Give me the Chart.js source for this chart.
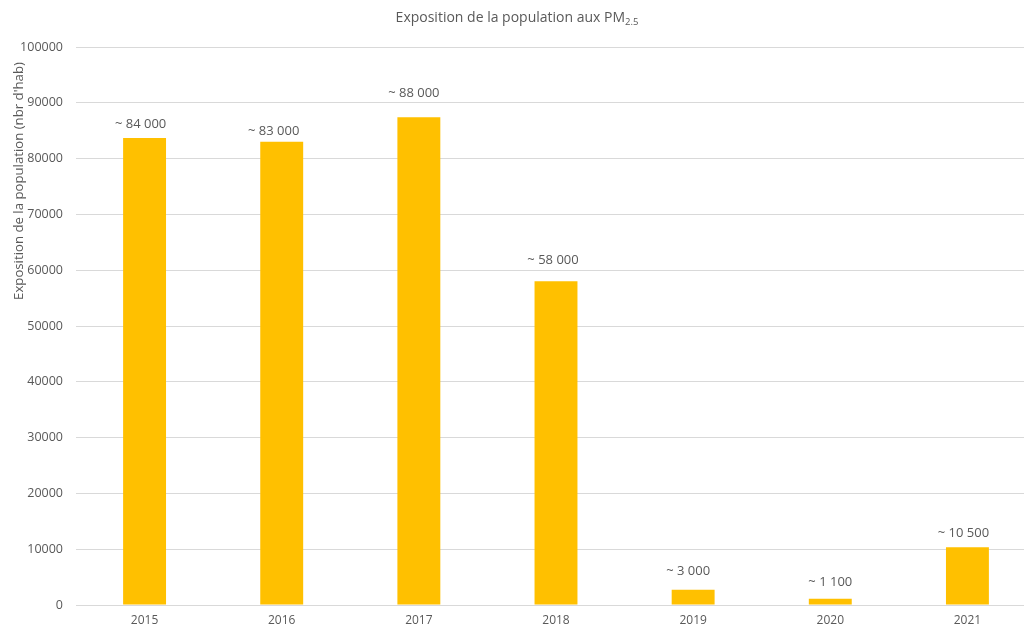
<!DOCTYPE html>
<html>
<head>
<meta charset="utf-8">
<script src="https://cdn.jsdelivr.net/npm/chart.js@4"></script>
<style>
    html, body { margin: 0; padding: 0; background: #fff; overflow: hidden; }
    #wrap { position: relative; width: 1036px; height: 630px; }
</style>
</head>
<body>
<div id="wrap"><canvas id="pmChart"></canvas></div>
<script>
// Data
const years = ['2015', '2016', '2017', '2018', '2019', '2020', '2021'];
const population = [83700, 83000, 87400, 58000, 2750, 1130, 10350];
const valueLabels = ['~ 84 000', '~ 83 000', '~ 88 000', '~ 58 000', '~ 3 000', '~ 1 100', '~ 10 500'];
const yTicks = [0, 10000, 20000, 30000, 40000, 50000, 60000, 70000, 80000, 90000, 100000];

// labels were nudged by hand in the original, keep the same offsets from the bar top
const labelDx = [-4, -8, -5, -3, -5, 0, -4];
const labelDy = [-14, -11, -24, -21, -18, -16, -14];

const textColor = '#595959';
const fontFamily = "'Open Sans', 'Noto Sans', sans-serif";

// Title with subscript, y axis title, labels above bars
const decorPlugin = {
    id: 'decor',
    afterDatasetsDraw(chart) {
        const ctx = chart.ctx;
        ctx.save();
        ctx.fillStyle = textColor;

        // title
        const main = 'Exposition de la population aux PM';
        const sub = '2.5';
        ctx.font = '14px ' + fontFamily;
        const wMain = ctx.measureText(main).width;
        ctx.font = '9.5px ' + fontFamily;
        const wSub = ctx.measureText(sub).width;
        let x = 517 - (wMain + wSub) / 2;
        ctx.textBaseline = 'alphabetic';
        ctx.textAlign = 'left';
        ctx.font = '14px ' + fontFamily;
        ctx.fillText(main, x, 22);
        ctx.font = '9.5px ' + fontFamily;
        ctx.fillText(sub, x + wMain, 25);

        // y axis title
        ctx.save();
        ctx.translate(19, 181);
        ctx.rotate(-Math.PI / 2);
        ctx.font = '13.2px ' + fontFamily;
        ctx.textAlign = 'center';
        ctx.textBaseline = 'middle';
        ctx.fillText("Exposition de la population (nbr d'hab)", 0, 0);
        ctx.restore();

        // value labels
        const meta = chart.getDatasetMeta(0);
        ctx.font = '13px ' + fontFamily;
        ctx.textAlign = 'center';
        ctx.textBaseline = 'middle';
        meta.data.forEach((bar, i) => {
            ctx.fillText(valueLabels[i], bar.x + labelDx[i], bar.y + labelDy[i]);
        });
        ctx.restore();
    }
};

new Chart(document.getElementById('pmChart'), {
    type: 'bar',
    data: {
        labels: years,
        datasets: [{
            data: population,
            backgroundColor: '#FFC000',
            borderWidth: 0,
            categoryPercentage: 1,
            barPercentage: 0.313
        }]
    },
    options: {
        responsive: true,
        maintainAspectRatio: false,
        animation: false,
        layout: { padding: { top: 47, left: 0, right: 0, bottom: 0 } },
        plugins: {
            legend: { display: false },
            tooltip: { enabled: false }
        },
        scales: {
            x: {
                grid: { display: false, drawTicks: false },
                border: { display: true, color: '#D9D9D9', width: 1 },
                ticks: {
                    color: textColor,
                    font: { family: fontFamily, size: 12 },
                    padding: 8,
                    maxRotation: 0
                },
                afterFit(scale) { scale.height = 25; }
            },
            y: {
                min: 0,
                max: 100000,
                afterBuildTicks(scale) {
                    scale.ticks = yTicks.map(v => ({ value: v }));
                },
                grid: { color: '#D9D9D9', drawTicks: false },
                border: { display: false },
                ticks: {
                    color: textColor,
                    font: { family: fontFamily, size: 12.5 },
                    padding: 13,
                    callback: v => String(v)
                },
                afterFit(scale) { scale.width = 76; }
            }
        }
    },
    plugins: [decorPlugin]
});
</script>
</body>
</html>
